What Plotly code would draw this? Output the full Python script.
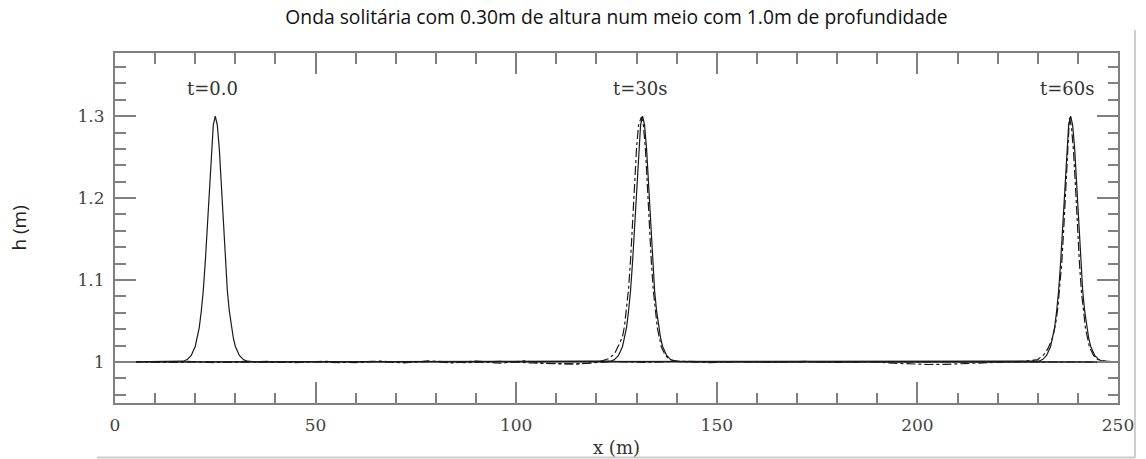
import plotly.graph_objects as go

# ---------------- data ----------------
title_text = "Onda solitária com 0.30m de altura num meio com 1.0m de profundidade"

x_ticks = [0, 50, 100, 150, 200, 250]
x_tick_text = ["0", "50", "100", "150", "200", "250"]
y_ticks = [1.0, 1.1, 1.2, 1.3]
y_tick_text = ["1", "1.1", "1.2", "1.3"]

# heights of the solid (analytical) profiles, shared by the three instants
h_solid = [1.000, 1.0003, 1.001, 1.003, 1.008, 1.019, 1.029, 1.042, 1.062, 1.087,
           1.122, 1.166, 1.216, 1.260, 1.289, 1.300, 1.289, 1.260, 1.216, 1.166,
           1.122, 1.087, 1.062, 1.042, 1.029, 1.019, 1.008, 1.003, 1.001, 1.0003, 1.000]

x_t0 = [0, 15, 17, 18, 19, 20, 20.5, 21, 21.5, 22, 22.5, 23, 23.5, 24, 24.5, 25,
        25.5, 26, 26.5, 27, 27.5, 28, 28.5, 29, 29.5, 30, 31, 32, 33, 35, 250]
x_t30 = [0, 121.5, 123.5, 124.5, 125.5, 126.5, 127, 127.5, 128, 128.5, 129, 129.5,
         130, 130.5, 131, 131.5, 132, 132.5, 133, 133.5, 134, 134.5, 135, 135.5,
         136, 136.5, 137.5, 138.5, 139.5, 141.5, 250]
x_t60 = [0, 228.2, 230.2, 231.2, 232.2, 233.2, 233.7, 234.2, 234.7, 235.2, 235.7,
         236.2, 236.7, 237.2, 237.7, 238.2, 238.7, 239.2, 239.7, 240.2, 240.7,
         241.2, 241.7, 242.2, 242.7, 243.2, 244.2, 245.2, 246.2, 248.2, 250]

# dash-dot (numerical) profiles
x_num30 = [0, 8, 15, 22, 30, 38, 45, 52, 60, 66, 72, 78, 84, 90, 96, 102, 107, 111,
           115, 118, 121, 123, 124.5, 125.5, 126.5, 127, 127.5, 128, 128.5, 129,
           129.5, 130, 130.5, 131.2, 131.7, 132.2, 132.7, 133.2, 133.7, 134.2,
           134.7, 135.2, 136.2, 137.2, 138.2, 140, 150, 175, 200, 225, 250]
h_num30 = [1.0, 1.0004, 0.9996, 1.0006, 0.9995, 1.0008, 0.9993, 1.001, 0.9992, 1.0012,
           0.999, 1.0013, 0.9988, 1.0012, 0.9985, 1.0015, 0.9982, 0.9978, 0.9975,
           0.9985, 1.001, 1.004, 1.010, 1.020, 1.031, 1.044, 1.064, 1.089, 1.124,
           1.168, 1.218, 1.261, 1.289, 1.299, 1.289, 1.260, 1.215, 1.165, 1.121,
           1.086, 1.061, 1.041, 1.018, 1.008, 1.003, 1.001, 1.0, 1.0, 1.0, 1.0, 1.0]

x_num60 = [0, 6, 12, 18, 25, 32, 40, 48, 56, 64, 72, 80, 88, 96, 104, 110, 114, 118,
           124, 132, 140, 148, 156, 164, 172, 180, 188, 194, 199, 203, 207, 211, 216,
           222, 227, 230, 231.5, 232.5, 233.5, 234, 234.5, 235, 235.5, 236, 236.5,
           237, 237.4, 237.9, 238.4, 238.9, 239.4, 239.9, 240.4, 240.9, 241.4, 241.9,
           242.9, 243.9, 244.9, 246.9, 250]
h_num60 = [1.0, 1.0006, 0.9994, 1.0008, 0.9993, 1.0007, 0.9995, 1.0006, 0.9993, 1.0008,
           0.9994, 1.0009, 0.9992, 1.0008, 0.9988, 0.998, 0.9978, 0.9985, 1.0008,
           0.9994, 1.0008, 0.9993, 1.0006, 0.9995, 1.0007, 0.9994, 1.0005, 0.9985,
           0.9975, 0.997, 0.9972, 0.998, 0.9995, 1.0005, 1.001, 1.003, 1.009, 1.016,
           1.027, 1.036, 1.048, 1.066, 1.090, 1.122, 1.165, 1.215, 1.258, 1.298,
           1.287, 1.258, 1.214, 1.164, 1.120, 1.085, 1.060, 1.041, 1.018, 1.008,
           1.003, 1.001, 1.0]

label_text = ["t=0.0", "t=30s", "t=60s"]
label_x = [24.2, 130.9, 237.2]
label_y = [1.334, 1.334, 1.334]

# ---------------- figure ----------------
LINE = "#1a1a1a"
AXIS = "#808080"
SERIF = "DejaVu Serif"

fig = go.Figure()
for xs in (x_t0, x_t30, x_t60):
    fig.add_trace(go.Scatter(x=xs, y=h_solid, mode="lines",
                             line=dict(color=LINE, width=1.2), hoverinfo="skip"))
for xs, hs in ((x_num30, h_num30), (x_num60, h_num60)):
    fig.add_trace(go.Scatter(x=xs, y=hs, mode="lines",
                             line=dict(color=LINE, width=1.2, dash="dashdot"),
                             hoverinfo="skip"))

axis_common = dict(
    showline=True, linecolor=AXIS, linewidth=2, mirror="ticks",
    ticks="inside", tickcolor=AXIS, tickwidth=1.5, ticklen=21,
    showgrid=False, zeroline=False,
    tickfont=dict(family=SERIF, size=17, color="#444444"),
)

fig.update_xaxes(range=[0, 250], tickmode="array", tickvals=x_ticks,
                 ticktext=x_tick_text, ticklabelstandoff=6,
                 minor=dict(ticks="inside", ticklen=10.5, tickwidth=1.5,
                            tickcolor=AXIS, dtick=10, tick0=0, showgrid=False),
                 **axis_common)
fig.update_yaxes(range=[0.95, 1.377], tickmode="array", tickvals=y_ticks,
                 ticktext=y_tick_text, ticklabelstandoff=5,
                 minor=dict(ticks="inside", ticklen=10.5, tickwidth=1.5,
                            tickcolor=AXIS, dtick=0.02, tick0=1.0, showgrid=False),
                 **axis_common)

annotations = []
for t, xv, yv in zip(label_text, label_x, label_y):
    annotations.append(dict(text=t, x=xv, y=yv, xref="x", yref="y",
                            showarrow=False,
                            font=dict(family=SERIF, size=18, color="#333333")))
annotations.append(dict(text="x (m)", x=0.5, y=-0.126, xref="paper", yref="paper",
                        showarrow=False, xanchor="center", yanchor="middle",
                        font=dict(family=SERIF, size=18, color="#333333")))
annotations.append(dict(text="h (m)", x=-0.0961, y=0.5, xref="paper", yref="paper",
                        showarrow=False, textangle=-90, xanchor="center",
                        yanchor="middle",
                        font=dict(family="Open Sans", size=19, color="#222222")))

shapes = [
    dict(type="line", xref="paper", yref="paper", x0=-0.0178, x1=1.0169,
         y0=-0.1557, y1=-0.1557, line=dict(color="#cccccc", width=2)),
    dict(type="line", xref="paper", yref="paper", x0=1.0169, x1=1.0169,
         y0=-0.1557, y1=1.0657, line=dict(color="#cccccc", width=2)),
]

fig.update_layout(
    width=1146, height=459,
    margin=dict(l=115, r=22, t=53, b=56),
    plot_bgcolor="white", paper_bgcolor="white",
    showlegend=False,
    title=dict(text=title_text, x=0.5, xref="paper", xanchor="center",
               y=1 - 17 / 459, yref="container", yanchor="middle",
               font=dict(family="Open Sans", size=19.3, color="#111111")),
    annotations=annotations,
    shapes=shapes,
)

fig.write_html("out.html")
